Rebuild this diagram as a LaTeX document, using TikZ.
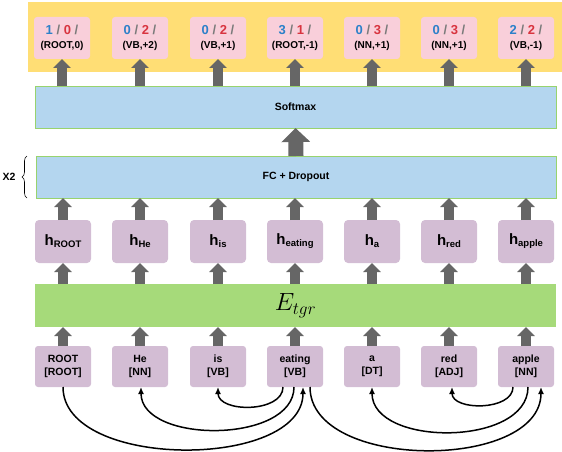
\documentclass[tikz,border=0pt]{standalone}
\usepackage{fontspec}
\setmainfont{Liberation Sans}
\usepackage{tikz}
\usetikzlibrary{arrows.meta, decorations.pathreplacing}

\definecolor{bandyellow}{HTML}{FFDE75}
\definecolor{labelpink}{HTML}{F9CFDA}
\definecolor{layerblue}{HTML}{B4D6EF}
\definecolor{layerline}{HTML}{98D36E}
\definecolor{embgreen}{HTML}{A6DA7A}
\definecolor{boxpurple}{HTML}{D3BDD4}
\definecolor{arrowgray}{HTML}{666666}
\definecolor{headblue}{HTML}{2C80C9}
\definecolor{depred}{HTML}{D8343F}
\definecolor{slashgray}{HTML}{7A7A7A}

% hidden state label, h with a dropped subscript
\newcommand{\hsub}[1]{{\fontsize{15}{15}\selectfont h}{\fontsize{9.5}{9.5}\selectfont\raisebox{-2pt}{#1}}}
% output label: head / relation / and the (tag,offset) pair
\newcommand{\outlab}[3]{{\fontsize{13}{14}\selectfont\textcolor{headblue}{#1} \textcolor{slashgray}{/} \textcolor{depred}{#2} \textcolor{slashgray}{/}}\\{#3}}

\begin{document}
\begin{tikzpicture}[
        x=1pt, y=-1pt,
        every node/.style={inner sep=0pt, outer sep=0pt, font=\bfseries\fontsize{10.5}{13}\selectfont},
        outbox/.style={fill=labelpink, rounded corners=3pt, minimum width=56pt, minimum height=42pt, align=center, font=\bfseries\fontsize{10}{14}\selectfont}, % output labels
        hbox/.style={fill=boxpurple, rounded corners=4pt, minimum width=56pt, minimum height=43pt}, % hidden states
        wordbox/.style={fill=boxpurple, rounded corners=3pt, minimum width=56pt, minimum height=41pt, align=center}, % input words
        layer/.style={fill=layerblue, draw=layerline, line width=0.8pt, minimum width=521pt, minimum height=42pt}, % wide layers
        flow/.style={arrowgray, line width=10pt, -{Triangle[length=9pt, width=17pt]}},
        bigflow/.style={arrowgray, line width=15pt, -{Triangle[length=14pt, width=28pt]}},
        deparc/.style={line width=1.5pt, -{Latex[length=7pt, width=6pt]}}
        ]
    \useasboundingbox (0,0) rectangle (562,452);

    % output band with the labels
    \node[fill=bandyellow, minimum width=534pt, minimum height=70pt] (band) at (295,37) {};
    \node[outbox] (o1) at (62,38) {\outlab{1}{0}{(ROOT,0)}};
    \node[outbox] (o2) at (140,38) {\outlab{0}{2}{(VB,+2)}};
    \node[outbox] (o3) at (218,38) {\outlab{0}{2}{(VB,+1)}};
    \node[outbox] (o4) at (295,38) {\outlab{3}{1}{(ROOT,-1)}};
    \node[outbox] (o5) at (372,38) {\outlab{0}{3}{(NN,+1)}};
    \node[outbox] (o6) at (449,38) {\outlab{0}{3}{(NN,+1)}};
    \node[outbox] (o7) at (526,38) {\outlab{2}{2}{(VB,-1)}};

    % classifier layers
    \node[layer] (softmax) at (295.5,107) {Softmax};
    \node[layer, minimum width=520pt] (fc) at (296,177) {FC + Dropout};

    % repeated twice
    \coordinate (bracebot) at (27,198);
    \coordinate (bracetop) at (27,156);
    \draw[decorate, decoration={brace, amplitude=5pt}, line width=0.6pt] (bracebot) -- (bracetop);
    \node (rep) at (9,177) {X2};

    % hidden states
    \node[hbox] (h1) at (63,241.5) {\hsub{ROOT}};
    \node[hbox] (h2) at (140,241.5) {\hsub{He}};
    \node[hbox] (h3) at (218,241.5) {\hsub{is}};
    \node[hbox] (h4) at (295,241.5) {\hsub{eating}};
    \node[hbox] (h5) at (372,241.5) {\hsub{a}};
    \node[hbox] (h6) at (449,241.5) {\hsub{red}};
    \node[hbox] (h7) at (526,241.5) {\hsub{apple}};

    % encoder
    \node[fill=embgreen, minimum width=521pt, minimum height=43pt] (emb) at (295.5,305.5) {\fontsize{26}{26}\selectfont$E_{tgr}$};

    % input words with tags
    \node[wordbox] (w1) at (63,366.5) {ROOT\\{[ROOT]}};
    \node[wordbox] (w2) at (140,366.5) {He\\{[NN]}};
    \node[wordbox] (w3) at (218,366.5) {is\\{[VB]}};
    \node[wordbox] (w4) at (295,366.5) {eating\\{[VB]}};
    \node[wordbox] (w5) at (372,366.5) {a\\{[DT]}};
    \node[wordbox] (w6) at (449,366.5) {red\\{[ADJ]}};
    \node[wordbox] (w7) at (526,366.5) {apple\\{[NN]}};

    % flow between the stages
    \foreach \i in {1,...,7} {
        \draw[flow] (softmax.north -| o\i) -- (o\i.south);
        \draw[flow] (h\i.north) -- (fc.south -| h\i);
        \draw[flow] (emb.north -| h\i) -- (h\i.south);
        \draw[flow] (w\i.north) -- (emb.south -| w\i);
    }
    \draw[bigflow] (fc.north) -- (softmax.south);

    % dependency arcs
    \draw[deparc] ([xshift=-12pt]w4.south) .. controls +(0,26) and +(0,26) .. (w3.south);
    \draw[deparc] ([xshift=-1pt]w4.south) .. controls +(0,57) and +(0,57) .. ([xshift=1pt]w2.south);
    \draw[deparc] (w1.south) .. controls +(0,83) and +(0,83) .. ([xshift=8pt]w4.south);
    \draw[deparc] ([xshift=15pt]w4.south) .. controls +(0,84) and +(0,84) .. ([xshift=15pt]w7.south);
    \draw[deparc] ([xshift=2pt]w7.south) .. controls +(0,60) and +(0,60) .. (w5.south);
    \draw[deparc] ([xshift=-13pt]w7.south) .. controls +(0,24) and +(0,24) .. ([xshift=3pt]w6.south);

\end{tikzpicture}
\end{document}
